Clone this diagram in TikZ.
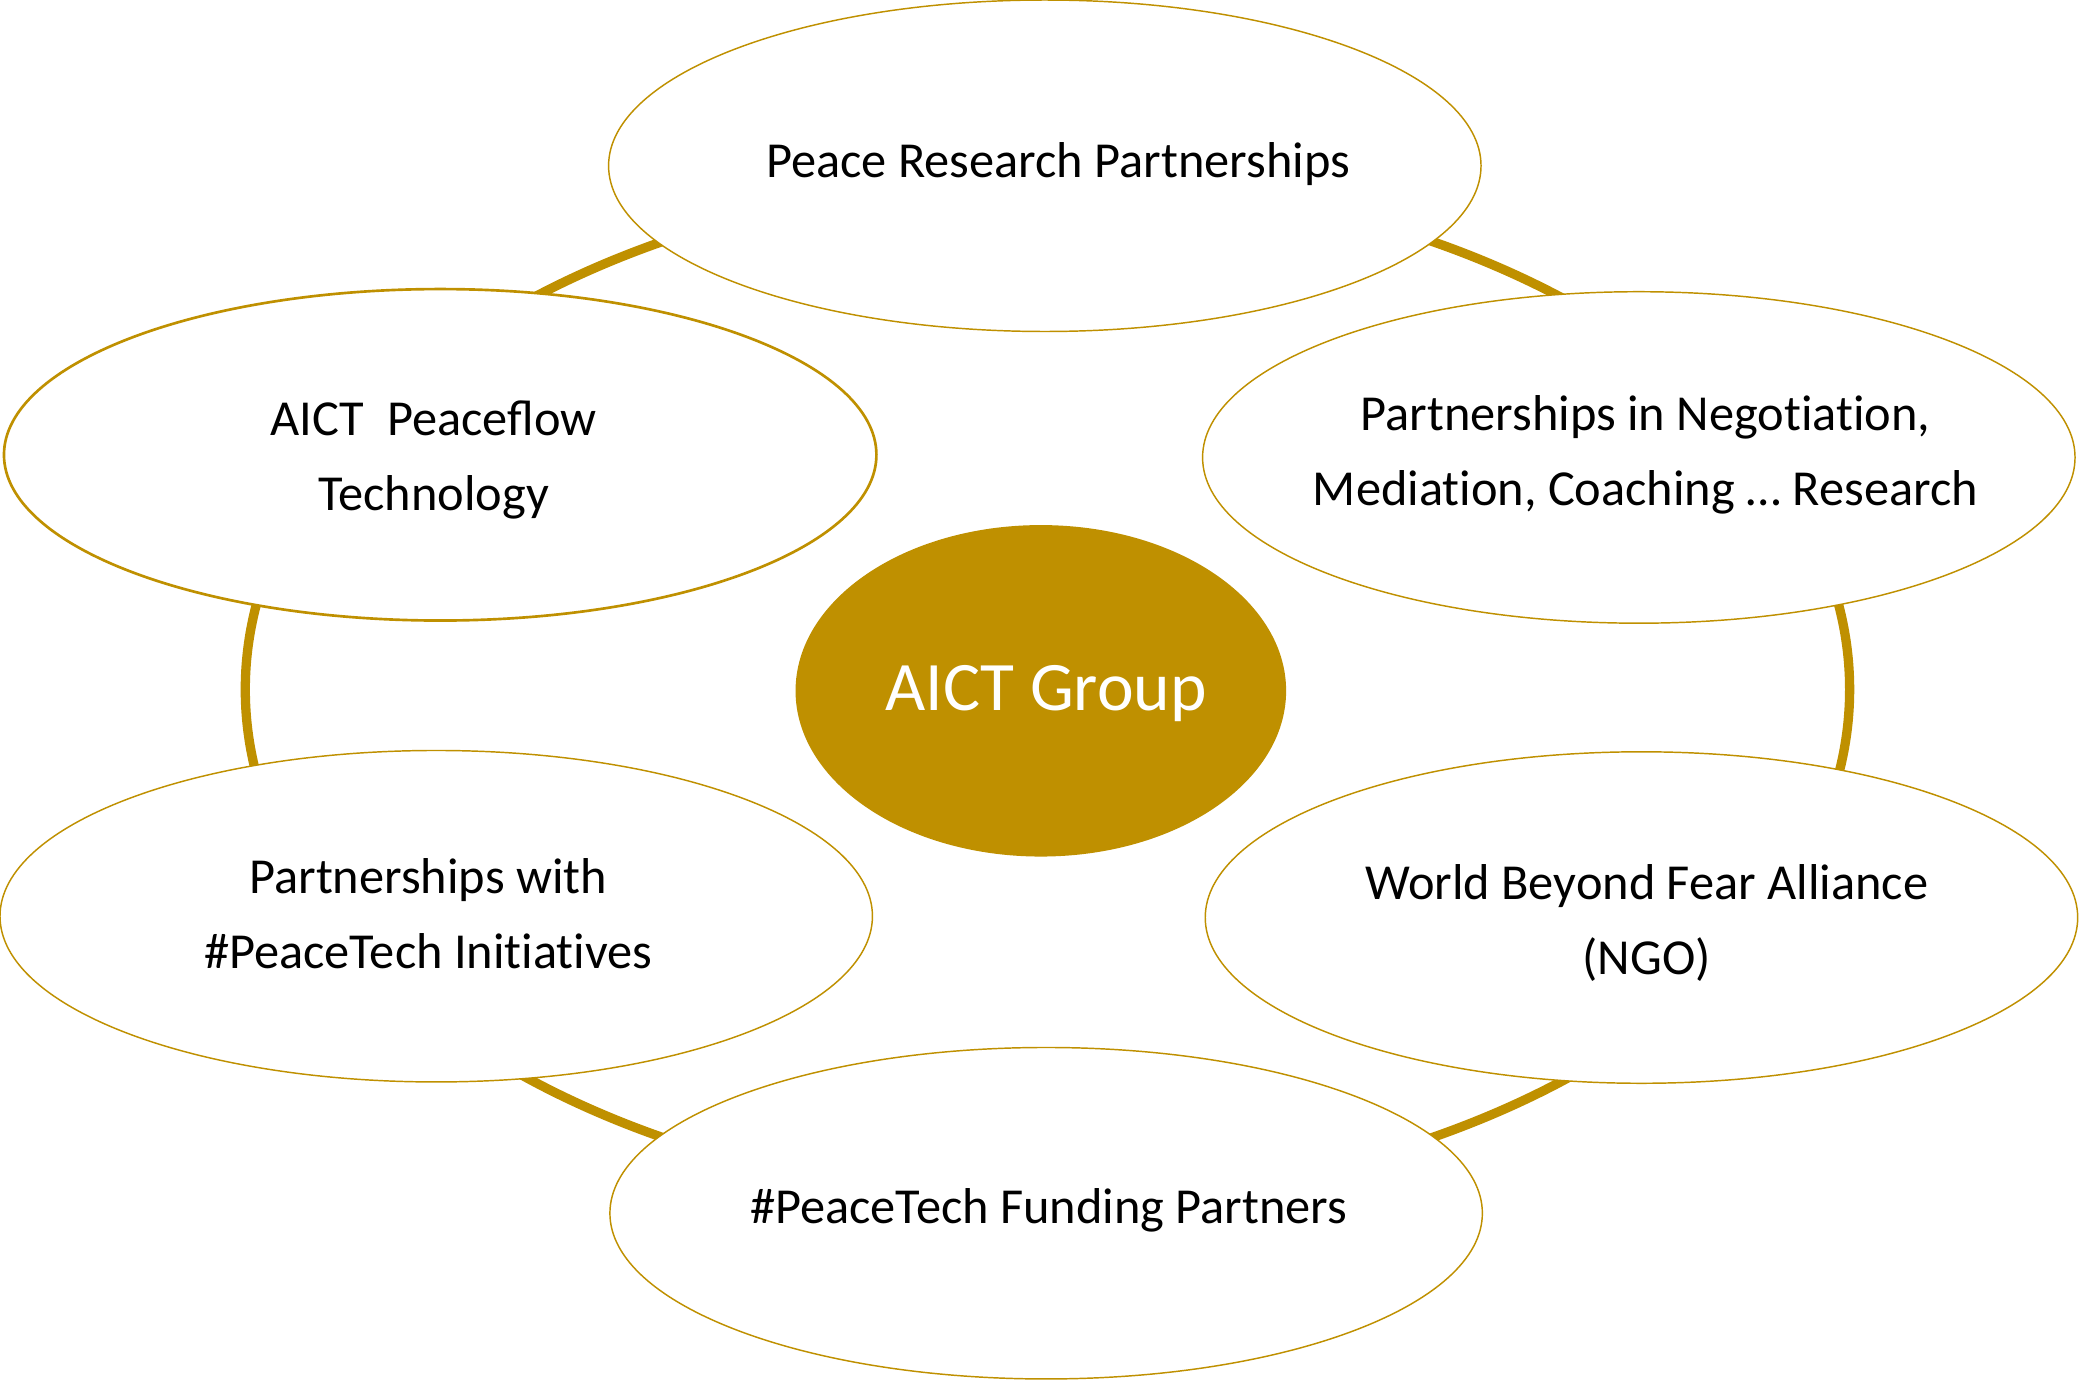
\documentclass[tikz,border=0pt]{standalone}
\usepackage{fontspec}
\setmainfont{Carlito}[Ligatures=NoCommon,RawFeature={-calt}]
\usetikzlibrary{shapes.geometric}
\definecolor{gold}{HTML}{BF9000}
\begin{document}
\begin{tikzpicture}[x=0.5pt,y=-0.5pt,
  partner/.style={ellipse, draw=gold, line width=0.55pt, fill=white,
    minimum width=329pt, minimum height=125pt, inner sep=0pt},
  lbl/.style={align=center, inner sep=0pt,
    font=\fontsize{19}{28.5}\selectfont, text=black},
  hub/.style={ellipse, fill=gold, minimum width=185pt, minimum height=125pt,
    inner sep=0pt},
  hublbl/.style={inner sep=0pt, text=white, font=\fontsize{26.2}{30}\selectfont},
  ringstyle/.style={ellipse, draw=gold, line width=3.5pt, minimum width=605pt,
    minimum height=385pt, inner sep=0pt}]
\useasboundingbox (0,0) rectangle (1568,1041);
\node[ringstyle] (ring) at (790,520) {};
\node[hub] (hub) at (785,521) {};
\node[hublbl] (hubt) at (789,523) {AICT Group};
\node[partner] (top) at (788,125) {};
\node[lbl] (topt) at (798,124) {Peace Research Partnerships};
\node[partner, line width=1pt] (ul) at (332,343) {};
\node[lbl] (ult) at (327,347) {AICT\ \ Peace^^^^fb02ow\\Technology};
\node[partner] (ur) at (1236,345) {};
\node[lbl] (urt) at (1241,343) {Partnerships in Negotiation,\\Mediation, Coaching … Research};
\node[partner] (ll) at (329,691) {};
\node[lbl] (llt) at (323,689) {Partnerships with\\\#PeaceTech Initiatives};
\node[partner] (lr) at (1238,692) {};
\node[lbl] (lrt) at (1242,696) {World Beyond Fear Alliance\\(NGO)};
\node[partner] (bot) at (789,915) {};
\node[lbl] (bott) at (791,913) {\#PeaceTech Funding Partners};
\end{tikzpicture}
\end{document}
